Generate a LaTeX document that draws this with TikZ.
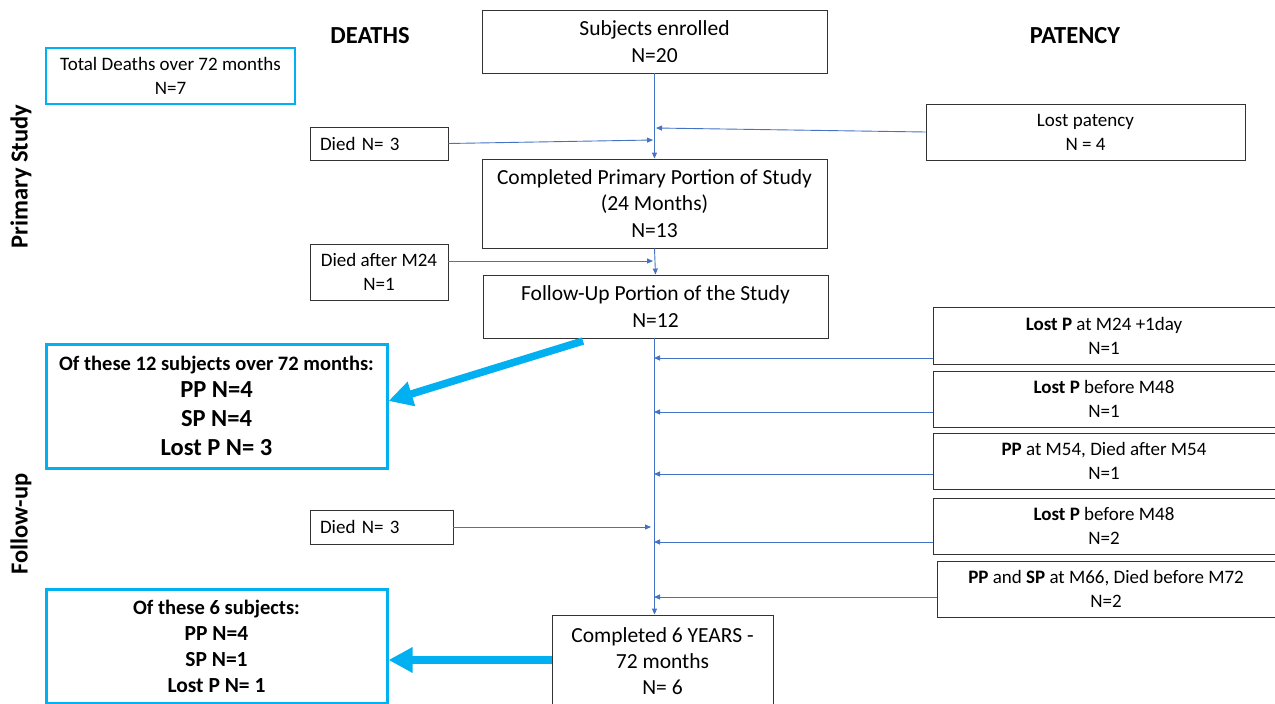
\documentclass[tikz,border=0pt]{standalone}
\usepackage{fontspec}
\setmainfont{Carlito}
\usetikzlibrary{arrows.meta}
\definecolor{lblue}{HTML}{4472C4}
\definecolor{cyanb}{HTML}{00B0F0}
\begin{document}
\begin{tikzpicture}[x=1pt,y=-1pt,
  box/.style={draw=black!80,line width=0.9pt,inner sep=0pt,align=center,fill=white},
  cbox/.style={draw=cyanb,line width=3pt,inner sep=0pt,align=center,fill=white},
  fmain/.style={font=\fontsize{21.5}{26.3}\selectfont},
  fside/.style={font=\fontsize{19}{24}\selectfont},
  conn/.style={draw=lblue,line width=0.9pt,-{Triangle[length=6pt,width=5pt]}},
  big/.style={draw=cyanb,line width=7.5pt,-{Triangle[length=24pt,width=24pt]}},
  head/.style={font=\fontsize{24.5}{28}\bfseries\selectfont}
]
\useasboundingbox (0,0) rectangle (1275,704);
% headings
\node[head] (hd) at (370,36) {DEATHS};
\node[head] (hp) at (1075,36) {PATENCY};
\node[head,rotate=90] (ps) at (21,176.5) {Primary Study};
\node[head,rotate=90] (fu) at (21,524) {Follow-up};
% central column
\node[box,fmain,minimum width=345,minimum height=63] (enr) at (654.5,41.5) {Subjects enrolled\\N=20};
\node[box,fmain,minimum width=345,minimum height=89] (cpp) at (654.5,203.5) {Completed Primary Portion of Study\\(24 Months)\\N=13};
\node[box,fmain,minimum width=345,minimum height=63] (fup) at (655.5,306.5) {Follow-Up Portion of the Study\\N=12};
\node[box,fmain,minimum width=221,minimum height=92] (c6) at (662.5,661) {Completed 6 YEARS -\\72 months\\N= 6};
% deaths column
\node[cbox,fside,line width=2pt,minimum width=249,minimum height=56] (td) at (170.5,76) {Total Deaths over 72 months\\N=7};
\node[box,fside,minimum width=138,minimum height=33,text width=118,align=left] (d1) at (379,143.5) {Died N= 3};
\node[box,fside,minimum width=138,minimum height=56] (d2) at (379,272) {Died after M24\\N=1};
\node[box,fside,minimum width=143,minimum height=34,text width=123,align=left] (d3) at (381.5,527) {Died N= 3};
% cyan summary boxes
\node[cbox,minimum width=341,minimum height=124,font=\fontsize{24.5}{29}\bfseries\selectfont] (s12) at (216.5,406)
 {{\fontsize{20.5}{26}\selectfont Of these 12 subjects over 72 months:}\\[-2pt]
  PP N=4\\SP N=4\\Lost P N= 3};
\node[cbox,minimum width=341,minimum height=114,font=\fontsize{21.5}{26}\bfseries\selectfont] (s6) at (216.5,646)
 {{\fontsize{20.5}{26}\selectfont Of these 6 subjects:}\\
  PP N=4\\SP N=1\\Lost P N= 1};
% patency column
\node[box,fside,minimum width=319,minimum height=56] (lp) at (1085.5,132) {Lost patency\\N = 4};
\node[box,fside,minimum width=342,minimum height=57] (p1) at (1104,335.5) {\textbf{Lost P} at M24 +1day\\N=1};
\node[box,fside,minimum width=342,minimum height=56] (p2) at (1104,399) {\textbf{Lost P} before M48\\N=1};
\node[box,fside,minimum width=342,minimum height=56] (p3) at (1104,461) {\textbf{PP} at M54, Died after M54\\N=1};
\node[box,fside,minimum width=342,minimum height=56] (p4) at (1104,526) {\textbf{Lost P} before M48\\N=2};
\node[box,fside,minimum width=338,minimum height=56] (p5) at (1106,589) {\textbf{PP} and \textbf{SP} at M66, Died before M72\\N=2};
% coordinates on the spine
\coordinate (a1) at (656,128);
\coordinate (a2) at (653,140);
\coordinate (a3) at (653,261);
\coordinate (b1) at (654,358);
\coordinate (b2) at (654,412);
\coordinate (b3) at (654,474);
\coordinate (b4) at (651,527);
\coordinate (b5) at (654,542);
\coordinate (b6) at (654,597);
% spine
\draw[conn] (enr.south) -- (cpp.north);
\draw[conn] (cpp.south) -- (fup.north);
\draw[conn] (fup.south -| enr.south) -- (c6.north -| enr.south);
% side arrows
\draw[conn] (lp.west) -- (a1);
\draw[conn] (d1.east) -- (a2);
\draw[conn] (d2.east |- a3) -- (a3);
\draw[conn] (p1.west |- b1) -- (b1);
\draw[conn] (p2.west |- b2) -- (b2);
\draw[conn] (p3.west |- b3) -- (b3);
\draw[conn] (d3.east) -- (b4);
\draw[conn] (p4.west |- b5) -- (b5);
\draw[conn] (p5.west |- b6) -- (b6);
% big cyan arrows
\coordinate (f1) at (583,341);
\draw[big] (f1) -- (s12.east |- 0,401);
\draw[big] (c6.west |- 0,660) -- (s6.east |- 0,660);
\end{tikzpicture}
\end{document}
